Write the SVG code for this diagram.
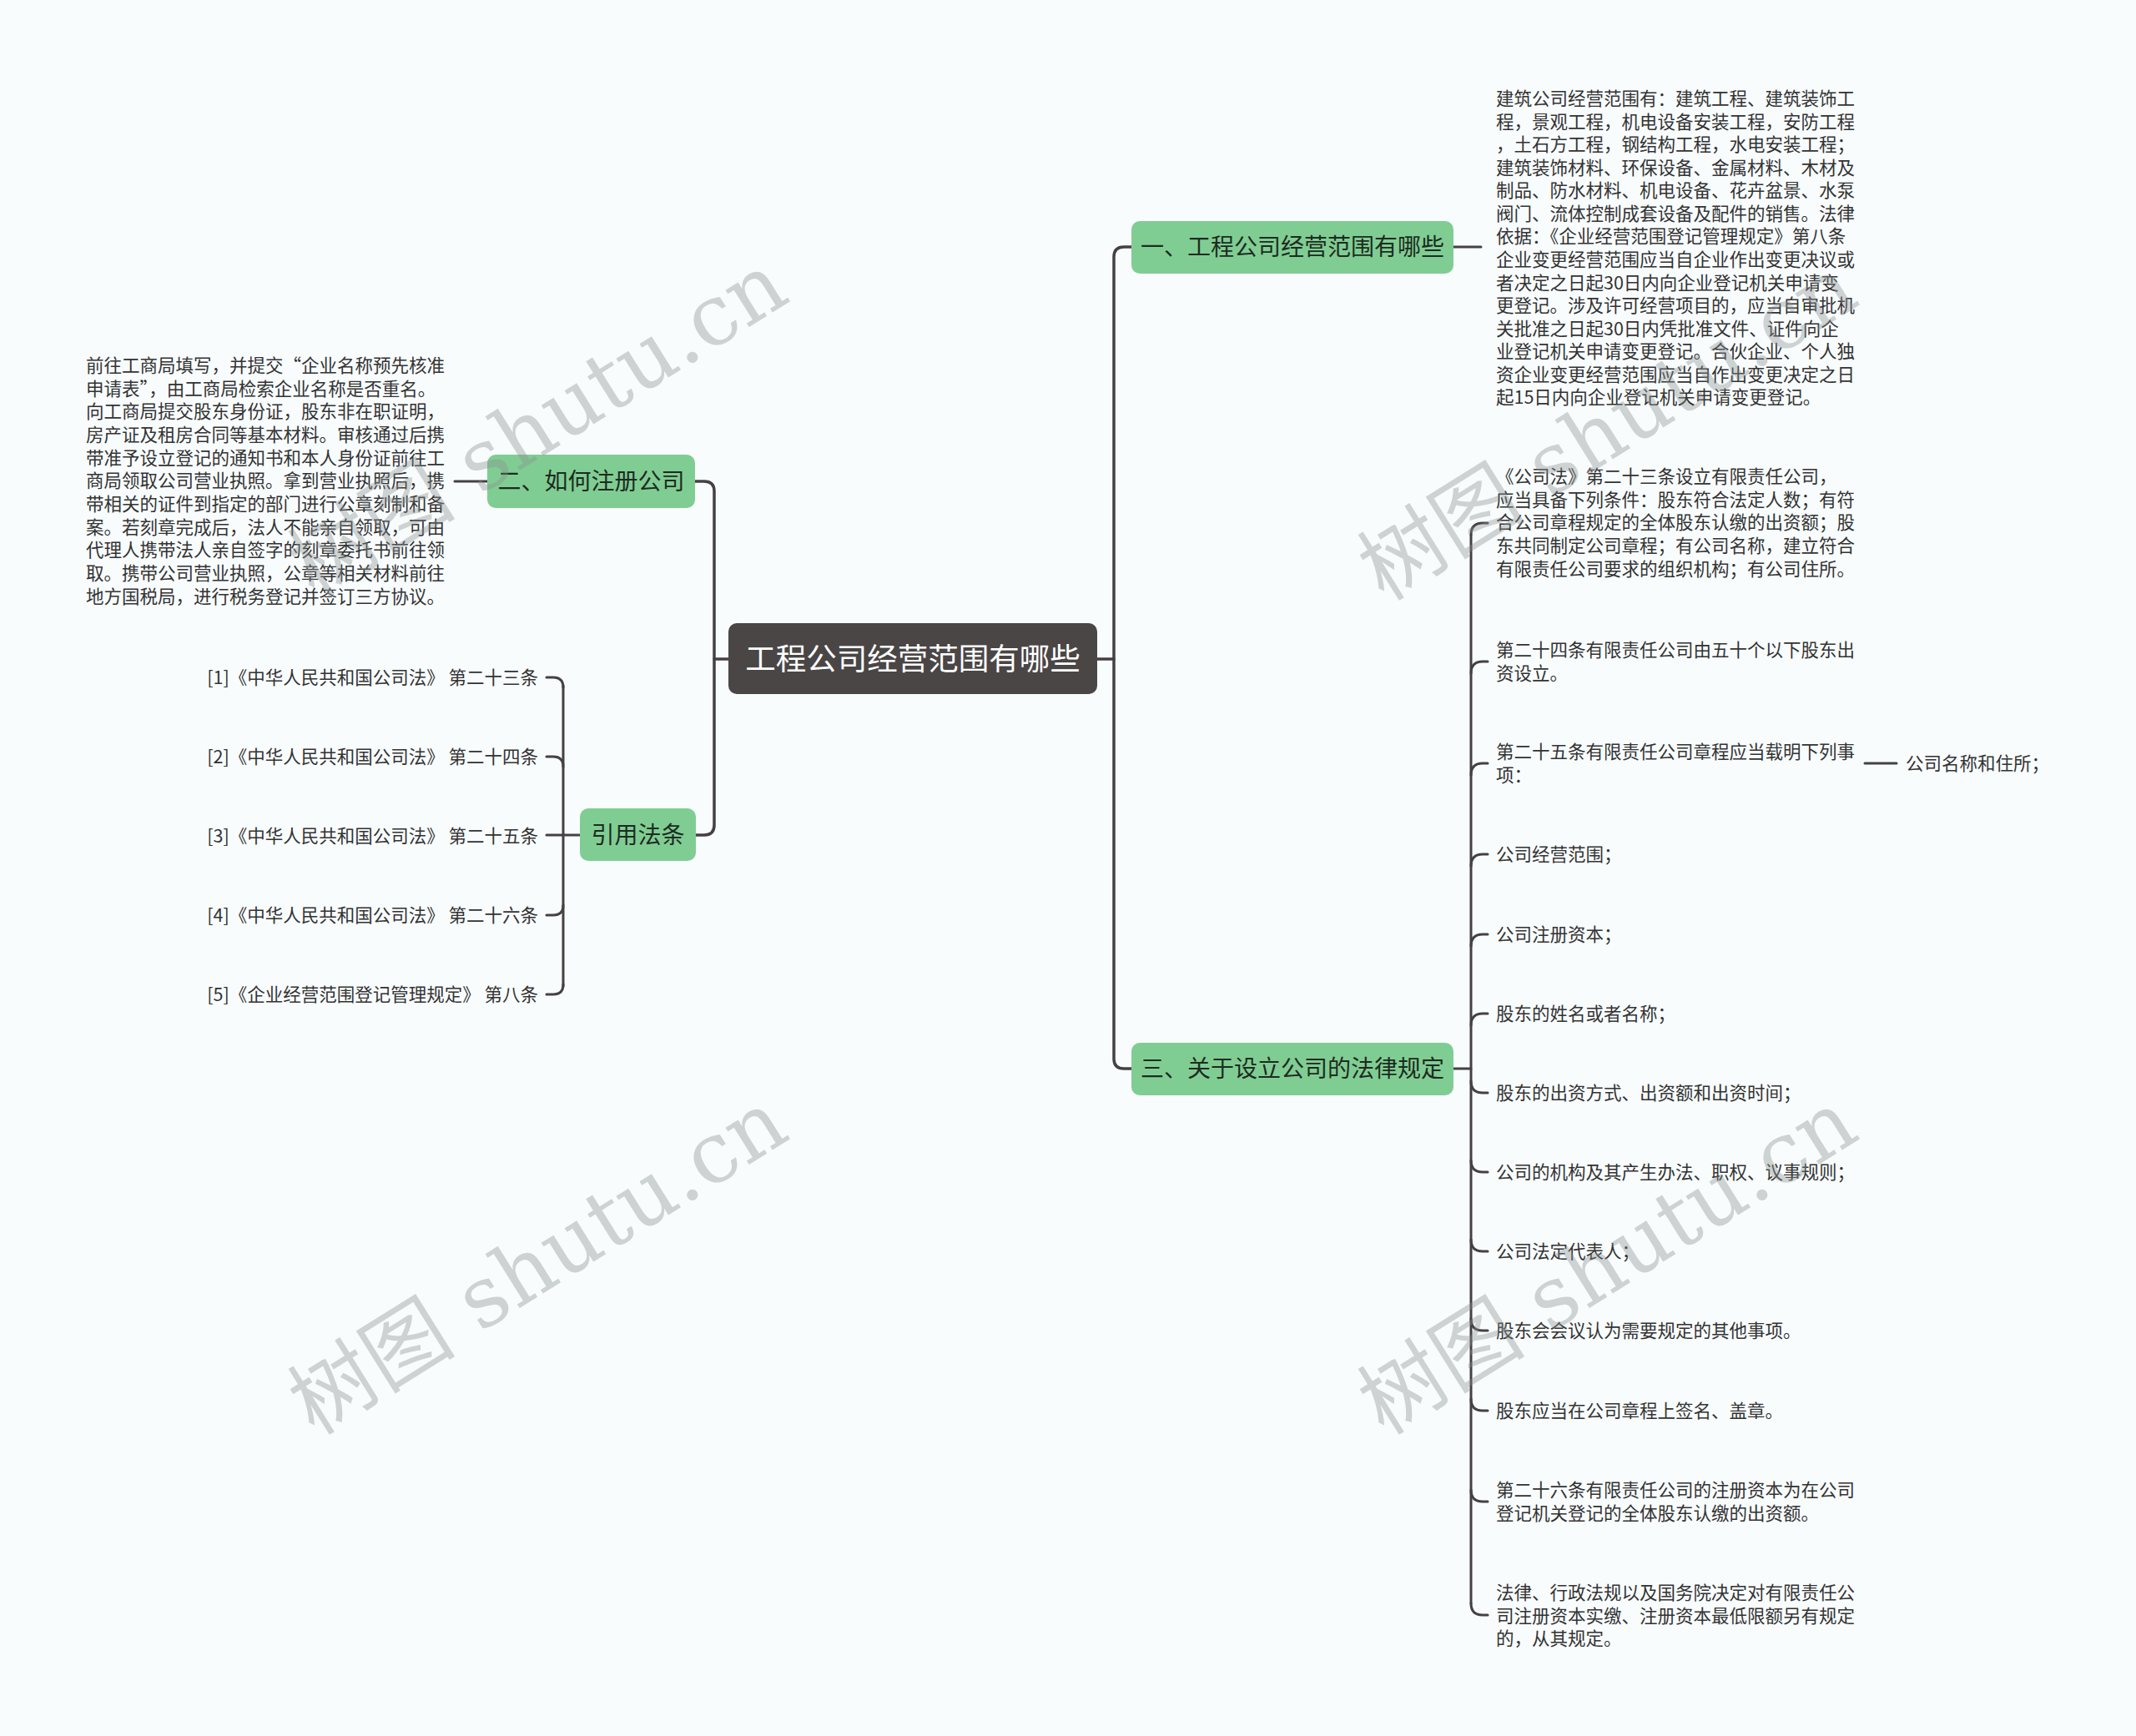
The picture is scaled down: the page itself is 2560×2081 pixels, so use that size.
<svg xmlns="http://www.w3.org/2000/svg" width="2560" height="2081" viewBox="0 0 2560 2081">
<style>
.t{font-family:"Noto Sans CJK SC","Microsoft YaHei",sans-serif;fill:#333;font-size:21.5px}
.root rect{fill:#4a4646}
.root text{font-family:"Noto Sans CJK SC",sans-serif;fill:#fff;font-size:36.5px;text-anchor:middle}
.sub rect{fill:#80cd93}
.sub text{font-family:"Noto Sans CJK SC",sans-serif;fill:#1d2b21;font-size:28px;text-anchor:middle}
.ln{fill:none;stroke:#454142;stroke-width:3.5;stroke-linecap:round}
.ln2{fill:none;stroke:#454142;stroke-width:3;stroke-linecap:round}
.wm{font-family:"DejaVu Serif","Noto Sans CJK SC",serif;font-size:101px;fill:#8a9090;opacity:.38;text-anchor:middle}
</style>
<rect x="0" y="0" width="2560" height="2081" fill="#f8fcfd"/>

<g id="connectors">
  <path class="ln" d="M873,790 H856"/>
  <path class="ln" d="M833,577 H844 Q856,577 856,589 V989 Q856,1001 844,1001 H834"/>
  <path class="ln" d="M1315,790 H1335"/>
  <path class="ln" d="M1356,296 H1347 Q1335,296 1335,308 V1269 Q1335,1281 1347,1281 H1356"/>
  <path class="ln2" d="M1742,296 H1775"/>
  <path class="ln2" d="M584,577 H545"/>
  <path class="ln2" d="M1742,1281 H1763"/>
  <path class="ln2" d="M1763,641 V1922"/>
  <path class="ln2" d="M1763,641 Q1763,627 1777,627 H1783"/>
  <path class="ln2" d="M1763,807 Q1763,793 1777,793 H1783"/>
  <path class="ln2" d="M1763,929 Q1763,915 1777,915 H1783"/>
  <path class="ln2" d="M1763,1038 Q1763,1024 1777,1024 H1783"/>
  <path class="ln2" d="M1763,1134 Q1763,1120 1777,1120 H1783"/>
  <path class="ln2" d="M1763,1229 Q1763,1215 1777,1215 H1783"/>
  <path class="ln2" d="M1763,1296 Q1763,1310 1777,1310 H1783"/>
  <path class="ln2" d="M1763,1391 Q1763,1405 1777,1405 H1783"/>
  <path class="ln2" d="M1763,1486 Q1763,1500 1777,1500 H1783"/>
  <path class="ln2" d="M1763,1581 Q1763,1595 1777,1595 H1783"/>
  <path class="ln2" d="M1763,1677 Q1763,1691 1777,1691 H1783"/>
  <path class="ln2" d="M1763,1786 Q1763,1800 1777,1800 H1783"/>
  <path class="ln2" d="M1763,1922 Q1763,1936 1777,1936 H1783"/>
  <path class="ln2" d="M2235,915 H2273"/>
  <path class="ln2" d="M675,822 V1182"/>
  <path class="ln2" d="M655,812 H663 Q675,812 675,824"/>
  <path class="ln2" d="M655,907 H663 Q675,907 675,919"/>
  <path class="ln2" d="M655,1001 H695"/>
  <path class="ln2" d="M655,1097 H663 Q675,1097 675,1085"/>
  <path class="ln2" d="M655,1192 H663 Q675,1192 675,1180"/>
</g>

<g id="root" class="root">
  <rect x="873" y="747" width="442" height="85" rx="10"/>
  <text x="1094" y="803">工程公司经营范围有哪些</text>
</g>

<g id="n1" class="sub">
  <rect x="1356" y="265" width="386" height="63" rx="10"/>
  <text x="1549" y="306">一、工程公司经营范围有哪些</text>
</g>
<g id="n2" class="sub">
  <rect x="584" y="545" width="249" height="64" rx="10"/>
  <text x="708.5" y="587">二、如何注册公司</text>
</g>
<g id="n3" class="sub">
  <rect x="1356" y="1250" width="386" height="63" rx="10"/>
  <text x="1549" y="1291">三、关于设立公司的法律规定</text>
</g>
<g id="n4" class="sub">
  <rect x="695" y="969" width="139" height="63" rx="10"/>
  <text x="764.5" y="1011">引用法条</text>
</g>

<g id="n1-text">
  <text class="t" x="1793" y="126">
    <tspan x="1793">建筑公司经营范围有：建筑工程、建筑装饰工</tspan>
    <tspan x="1793" dy="27.57">程，景观工程，机电设备安装工程，安防工程</tspan>
    <tspan x="1793" dy="27.57">，土石方工程，钢结构工程，水电安装工程；</tspan>
    <tspan x="1793" dy="27.57">建筑装饰材料、环保设备、金属材料、木材及</tspan>
    <tspan x="1793" dy="27.57">制品、防水材料、机电设备、花卉盆景、水泵</tspan>
    <tspan x="1793" dy="27.57">阀门、流体控制成套设备及配件的销售。法律</tspan>
    <tspan x="1793" dy="27.57">依据：《企业经营范围登记管理规定》第八条</tspan>
    <tspan x="1793" dy="27.57">企业变更经营范围应当自企业作出变更决议或</tspan>
    <tspan x="1793" dy="27.57">者决定之日起30日内向企业登记机关申请变</tspan>
    <tspan x="1793" dy="27.57">更登记。涉及许可经营项目的，应当自审批机</tspan>
    <tspan x="1793" dy="27.57">关批准之日起30日内凭批准文件、证件向企</tspan>
    <tspan x="1793" dy="27.57">业登记机关申请变更登记。合伙企业、个人独</tspan>
    <tspan x="1793" dy="27.57">资企业变更经营范围应当自作出变更决定之日</tspan>
    <tspan x="1793" dy="27.57">起15日内向企业登记机关申请变更登记。</tspan>
  </text>
</g>

<g id="n2-text">
  <text class="t" x="103" y="446">
    <tspan x="103">前往工商局填写，并提交“企业名称预先核准</tspan>
    <tspan x="103" dy="27.67">申请表”，由工商局检索企业名称是否重名。</tspan>
    <tspan x="103" dy="27.67">向工商局提交股东身份证，股东非在职证明，</tspan>
    <tspan x="103" dy="27.67">房产证及租房合同等基本材料。审核通过后携</tspan>
    <tspan x="103" dy="27.67">带准予设立登记的通知书和本人身份证前往工</tspan>
    <tspan x="103" dy="27.67">商局领取公司营业执照。拿到营业执照后，携</tspan>
    <tspan x="103" dy="27.67">带相关的证件到指定的部门进行公章刻制和备</tspan>
    <tspan x="103" dy="27.67">案。若刻章完成后，法人不能亲自领取，可由</tspan>
    <tspan x="103" dy="27.67">代理人携带法人亲自签字的刻章委托书前往领</tspan>
    <tspan x="103" dy="27.67">取。携带公司营业执照，公章等相关材料前往</tspan>
    <tspan x="103" dy="27.67">地方国税局，进行税务登记并签订三方协议。</tspan>
  </text>
</g>

<g id="refs">
  <text class="t" x="645" y="819.5" text-anchor="end">[1]《中华人民共和国公司法》 第二十三条</text>
  <text class="t" x="645" y="914.5" text-anchor="end">[2]《中华人民共和国公司法》 第二十四条</text>
  <text class="t" x="645" y="1009.5" text-anchor="end">[3]《中华人民共和国公司法》 第二十五条</text>
  <text class="t" x="645" y="1104.5" text-anchor="end">[4]《中华人民共和国公司法》 第二十六条</text>
  <text class="t" x="645" y="1199.5" text-anchor="end">[5]《企业经营范围登记管理规定》 第八条</text>
</g>

<g id="n3-children">
  <text class="t" x="1793" y="579">
    <tspan x="1793">《公司法》第二十三条设立有限责任公司，</tspan>
    <tspan x="1793" dy="27.7">应当具备下列条件：股东符合法定人数；有符</tspan>
    <tspan x="1793" dy="27.7">合公司章程规定的全体股东认缴的出资额；股</tspan>
    <tspan x="1793" dy="27.7">东共同制定公司章程；有公司名称，建立符合</tspan>
    <tspan x="1793" dy="27.7">有限责任公司要求的组织机构；有公司住所。</tspan>
  </text>
  <text class="t" x="1793" y="787">
    <tspan x="1793">第二十四条有限责任公司由五十个以下股东出</tspan>
    <tspan x="1793" dy="27.7">资设立。</tspan>
  </text>
  <text class="t" x="1793" y="909">
    <tspan x="1793">第二十五条有限责任公司章程应当载明下列事</tspan>
    <tspan x="1793" dy="27.7">项：</tspan>
  </text>
  <text class="t" x="2284" y="923">公司名称和住所；</text>
  <text class="t" x="1793" y="1032">公司经营范围；</text>
  <text class="t" x="1793" y="1128">公司注册资本；</text>
  <text class="t" x="1793" y="1223">股东的姓名或者名称；</text>
  <text class="t" x="1793" y="1318">股东的出资方式、出资额和出资时间；</text>
  <text class="t" x="1793" y="1413">公司的机构及其产生办法、职权、议事规则；</text>
  <text class="t" x="1793" y="1508">公司法定代表人；</text>
  <text class="t" x="1793" y="1603">股东会会议认为需要规定的其他事项。</text>
  <text class="t" x="1793" y="1699">股东应当在公司章程上签名、盖章。</text>
  <text class="t" x="1793" y="1794">
    <tspan x="1793">第二十六条有限责任公司的注册资本为在公司</tspan>
    <tspan x="1793" dy="27.7">登记机关登记的全体股东认缴的出资额。</tspan>
  </text>
  <text class="t" x="1793" y="1917">
    <tspan x="1793">法律、行政法规以及国务院决定对有限责任公</tspan>
    <tspan x="1793" dy="27.7">司注册资本实缴、注册资本最低限额另有规定</tspan>
    <tspan x="1793" dy="27.7">的，从其规定。</tspan>
  </text>
</g>

<g id="watermarks">
  <text class="wm" transform="translate(645,510) rotate(-32)" x="0" y="34">树图 shutu.cn</text>
  <text class="wm" transform="translate(1927,514) rotate(-32)" x="0" y="34">树图 shutu.cn</text>
  <text class="wm" transform="translate(645,1514) rotate(-32)" x="0" y="34">树图 shutu.cn</text>
  <text class="wm" transform="translate(1927,1514) rotate(-32)" x="0" y="34">树图 shutu.cn</text>
</g>
</svg>
